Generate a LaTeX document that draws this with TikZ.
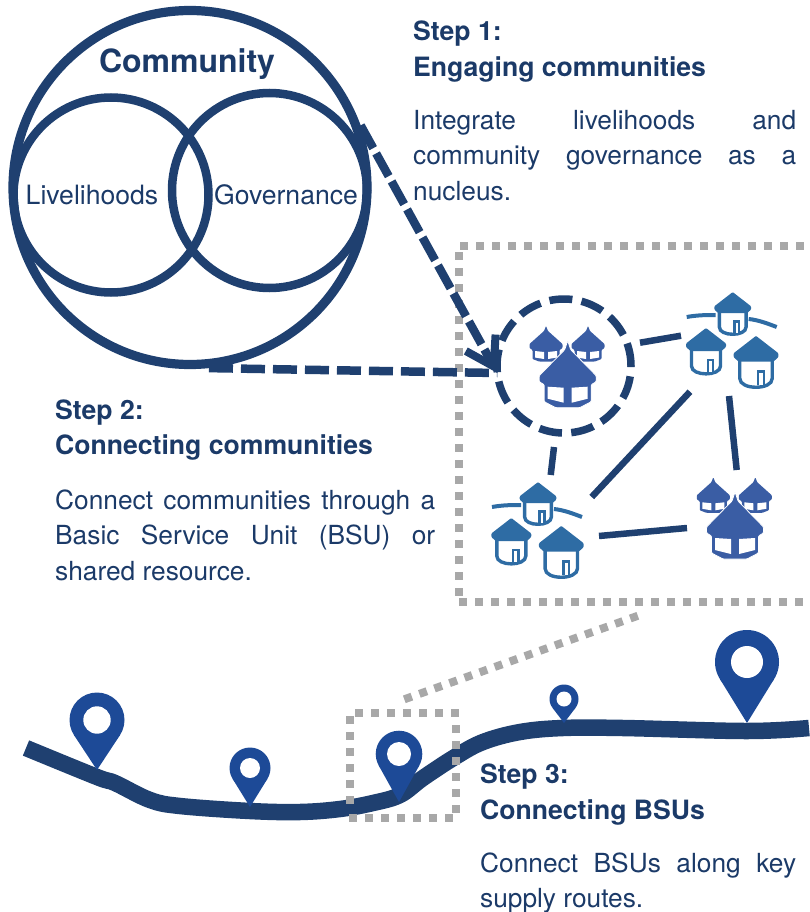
\documentclass[tikz,border=0pt]{standalone}
\usepackage{fontspec}
\setmainfont{TeX Gyre Heros}
\usetikzlibrary{arrows.meta}
\definecolor{navy}{HTML}{1F4070}
\definecolor{txtnavy}{HTML}{1B3A68}
\definecolor{pinblue}{HTML}{1D4A97}
\definecolor{thatch}{HTML}{3A5DA4}
\definecolor{roundhut}{HTML}{2E6CA4}
\definecolor{dotgray}{HTML}{A8A8A8}
\newcommand{\thatchsmall}[2]{%
  \begin{scope}[shift={(#1,#2)}]
    \fill[thatch,rounded corners=.8] (0,-1) -- (2,4) -- (16.5,17) -- (16.5,21) -- (13.5,23) -- (13.5,32) -- (7,34.5) -- (-7,34.5) -- (-13.5,32) -- (-13.5,23) -- (-16.5,21) -- (-16.5,17) -- (-2,4) -- cycle;
    \fill[white] (-11,24) -- (-2,25) -- (-2,32) -- (-11,30.5) -- cycle;
    \fill[white] (2,25) -- (11,24) -- (11,30.5) -- (2,32) -- cycle;
  \end{scope}}
\newcommand{\roundhutshape}[3]{%
  \begin{scope}[shift={(#1,#2)},scale=#3]
    \draw[roundhut,line width=3.4pt,fill=white] (-14.5,16) -- (-14.5,37) .. controls (-14.5,47.5) and (14.5,47.5) .. (14.5,37) -- (14.5,16) -- cycle;
    \draw[roundhut,line width=2.6pt,fill=white] (1.8,43) -- (1.8,31) -- (7,31) -- (7,43);
    \fill[roundhut,rounded corners=1] (0,-1) -- (20,14.5) -- (20,18) -- (15.5,22) -- (-15.5,22) -- (-20,18) -- (-20,14.5) -- cycle;
  \end{scope}}
\newcommand{\mappin}[5]{%
  \pgfmathsetmacro{\pinang}{acos(#3/(#5-#2))}%
  \pgfmathsetmacro{\pindx}{#3*sin(\pinang)}%
  \pgfmathsetmacro{\pindy}{#3*cos(\pinang)}%
  \fill[pinblue] (#1,#2) circle[radius=#3];
  \fill[pinblue] ({#1-\pindx},{#2+\pindy}) -- (#1,#5) -- ({#1+\pindx},{#2+\pindy}) -- cycle;
  \fill[white] (#1,#2) circle[radius=#4];}
\tikzset{
  x=1pt,y=-1pt,
  headtext/.style={anchor=north west,inner sep=0pt,align=left,text=txtnavy,font=\fontsize{26.6}{35.5}\selectfont\bfseries},
  bodytext/.style={anchor=north west,inner sep=0pt,align=left,text=txtnavy,font=\fontsize{26.3}{35.5}\selectfont},
  venn/.style={circle,draw=navy,inner sep=0pt,minimum size=195pt,line width=8.5pt},
  link/.style={draw=navy,line width=6.5pt},
  zoomdash/.style={draw=navy,line width=8.5pt,dash pattern=on 24pt off 8pt},
  graydots/.style={draw=dotgray,line width=8pt,dash pattern=on 8pt off 8pt},
  pics/thatchcluster/.style={code={
    \thatchsmall{-21.7}{-14.7}
    \thatchsmall{20.3}{-14.7}
    \fill[thatch,draw=white,line width=.8pt,rounded corners=1] (0,-1) -- (3,8) -- (28.5,34) -- (28.5,40) -- (23.5,43) -- (23.5,60) -- (12,66) -- (-12,66) -- (-23.5,60) -- (-23.5,43) -- (-28.5,40) -- (-28.5,34) -- (-3,8) -- cycle;
    \fill[white] (-20,45) -- (-4,46) -- (-4,61) -- (-20,57) -- cycle;
    \fill[white] (4,46) -- (20,45) -- (20,57) -- (4,61) -- cycle;
  }},
  pics/hutcluster/.style={code={
    \draw[roundhut,line width=4pt] (-46,24) .. controls (-35,22) and (-25,22) .. (-17,22);
    \draw[roundhut,line width=4pt] (16,26) .. controls (26,27) and (36,31) .. (44,34);
    \roundhutshape{0}{0}{.92}
    \roundhutshape{-26.7}{36}{1}
    \roundhutshape{23.3}{44}{1.12}
  }}
}
\begin{document}
\begin{tikzpicture}
\useasboundingbox (0,0) rectangle (809,912);
% dotted frame of the village group
\draw[graydots] (460,246) -- (809,246) (459,252) -- (459,600) (459,601.5) -- (809,601.5);
% road
\draw[navy,line width=16.5pt] plot[smooth,tension=.6] coordinates {(26,748) (97,777) (115,783) (150,800) (180,806) (250,811) (300,812) (340,809) (373,803) (400,795) (423,778) (455,757) (483,742) (520,732) (563,728) (623,728) (747,731) (809,728)};
% pins
\mappin{97}{720}{27.5}{13.7}{770}
\mappin{250}{768}{20.5}{10}{807}
\mappin{399}{754}{23.3}{12}{802}
\mappin{564}{699}{14.5}{7.5}{723}
\mappin{747}{662}{32}{16}{723}
% small dotted frame and its lead
\draw[graydots] (355,713) -- (460,713) (456,725) -- (456,814) (349,818) -- (454,818) (350,716) -- (350,806);
\coordinate (leadA) at (404.3,699.3);
\coordinate (leadB) at (640,615);
\draw[graydots] (leadA) -- (leadB);
% Community diagram
\node[circle,draw=navy,inner sep=0pt,minimum size=354pt,line width=9.2pt] (comm) at (190,187.5) {};
\node[venn] (live) at (111,195) {};
\node[venn] (gov) at (269.5,190.5) {};
\node[text=txtnavy,font=\fontsize{32}{36}\selectfont\bfseries,inner sep=0pt] (commlabel) at (187,64) {Community};
\node[text=txtnavy,font=\fontsize{26.6}{30}\selectfont,inner sep=0pt] (livelabel) at (92,195) {Livelihoods};
\node[text=txtnavy,font=\fontsize{26.6}{30}\selectfont,inner sep=0pt] (govlabel) at (286,195) {Governance};
% villages
\node[circle,draw=navy,inner sep=0pt,outer sep=0pt,minimum size=134pt,line width=7.5pt,dash pattern=on 23pt off 9.3pt] (nuc) at (564,366) {};
\pic at (567.7,341.7) {thatchcluster};
\pic at (735,493) {thatchcluster};
\pic at (732.7,293) {hutcluster};
\pic at (538,483) {hutcluster};
% village links
\coordinate (a1) at (640,342.7); \coordinate (a2) at (681,335.7);
\coordinate (b1) at (690,391.7); \coordinate (b2) at (591.7,497);
\coordinate (c1) at (729,396);   \coordinate (c2) at (736.7,470);
\coordinate (d1) at (554,447);   \coordinate (d2) at (550.7,475);
\coordinate (e1) at (599,536);   \coordinate (e2) at (687,528);
\draw[link] (a1) -- (a2);
\draw[link] (b1) -- (b2);
\draw[link] (c1) -- (c2);
\draw[link] (d1) -- (d2);
\draw[link] (e1) -- (e2);
% zoom connectors
\draw[zoomdash,dash pattern=on 26pt off 6pt,-{Straight Barb[length=27pt,width=34pt,line width=8pt]}] (comm.20.4) -- (nuc.186);
\draw[zoomdash] (comm.-84.5) -- (nuc.186);
% texts
\node[headtext] (h1) at (413,21) {Step 1:\\Engaging communities};
\node[bodytext] (b1t) at (413,110) {\hbox to 383pt{Integrate\hfill livelihoods\hfill and}\\\hbox to 383pt{community\hfill governance\hfill as\hfill a}\\nucleus.};
\node[headtext] (h2) at (55,399.5) {Step 2:\\Connecting communities};
\node[bodytext] (b2t) at (55,489.5) {\hbox to 380pt{Connect\hfill communities\hfill through\hfill a}\\\hbox to 380pt{Basic\hfill Service\hfill Unit\hfill (BSU)\hfill or}\\shared resource.};
\node[headtext] (h3) at (480,764) {Step 3:\\Connecting BSUs};
\node[bodytext] (b3t) at (480,852.5) {\hbox to 316pt{Connect\hfill BSUs\hfill along\hfill key}\\[-.5pt]supply routes.};
\end{tikzpicture}
\end{document}
